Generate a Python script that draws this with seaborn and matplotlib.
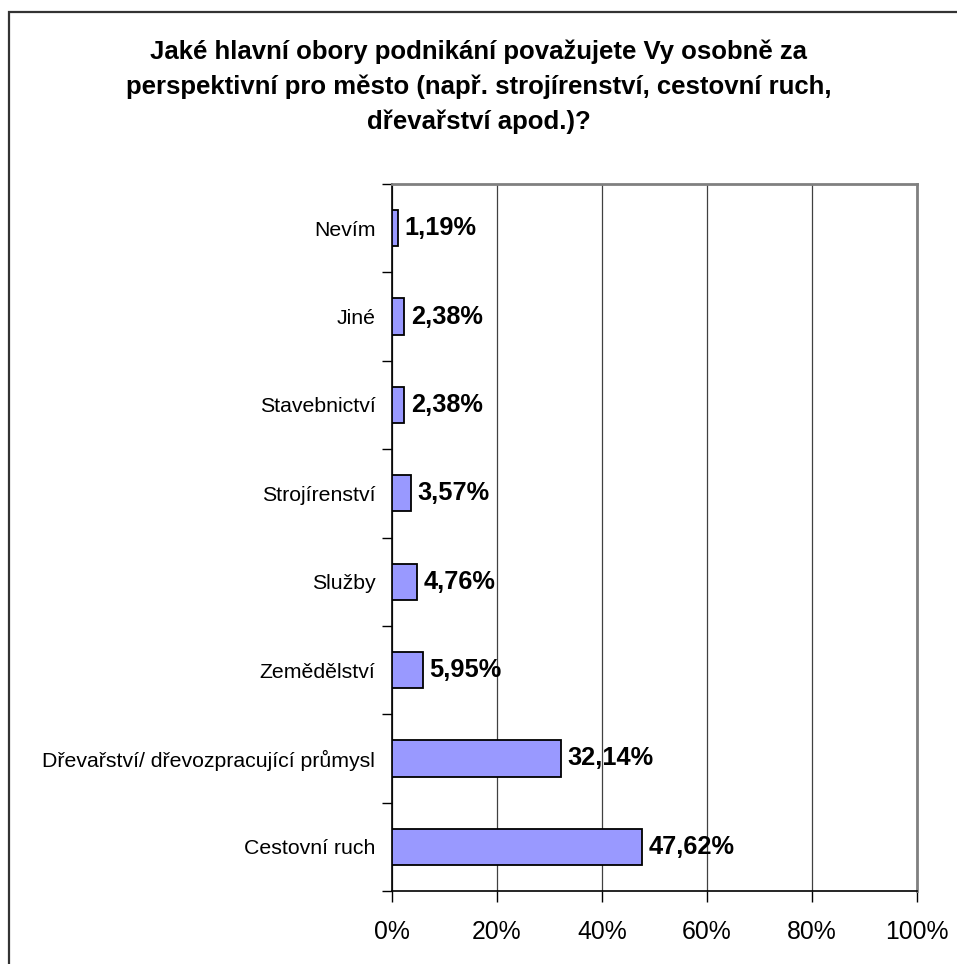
import matplotlib
matplotlib.use("Agg")
import matplotlib.pyplot as plt
from matplotlib.patches import Rectangle
from matplotlib.ticker import FixedLocator, PercentFormatter
import seaborn as sns
import pandas as pd

categories = [
    "Nevím",
    "Jiné",
    "Stavebnictví",
    "Strojírenství",
    "Služby",
    "Zemědělství",
    "Dřevařství/ dřevozpracující průmysl",
    "Cestovní ruch",
]
values = [1.19, 2.38, 2.38, 3.57, 4.76, 5.95, 32.14, 47.62]
x_ticks = [0, 20, 40, 60, 80, 100]
title = ("Jaké hlavní obory podnikání považujete Vy osobně za\n"
         "perspektivní pro město (např. strojírenství, cestovní ruch,\n"
         "dřevařství apod.)?")

sns.set_theme(style="white")
plt.rcParams["font.family"] = ["Liberation Sans", "DejaVu Sans"]
plt.rcParams["text.color"] = "black"

df = pd.DataFrame({"obor": categories, "podil": values})

fig = plt.figure(figsize=(9.57, 9.64), dpi=100)
ax = fig.add_axes([392 / 957, 1 - 891 / 964, 525 / 957, 707 / 964])

sns.barplot(data=df, x="podil", y="obor", order=categories, orient="h",
            color="#9999FF", edgecolor="black", linewidth=1.3,
            width=0.41, saturation=1, ax=ax, zorder=3)

ax.set_xlim(0, 100)
ax.set_ylim(len(categories) - 0.5, -0.5)
ax.set_xlabel("")
ax.set_ylabel("")

# vertical gridlines
ax.xaxis.set_major_locator(FixedLocator(x_ticks))
ax.xaxis.set_major_formatter(PercentFormatter(decimals=0))
ax.grid(axis="x", color="#404040", linewidth=0.9, zorder=0)
ax.grid(axis="y", visible=False)

# tick marks between categories, labels at centres
ax.set_yticks(range(len(categories)))
ax.set_yticklabels(categories)
ax.yaxis.set_minor_locator(FixedLocator([i - 0.5 for i in range(len(categories) + 1)]))
ax.tick_params(axis="y", which="major", length=0, pad=12, labelsize=15.3, colors="black")
ax.tick_params(axis="y", which="minor", left=True, length=7, width=1, color="black", direction="out")
ax.tick_params(axis="x", which="major", bottom=True, length=8, width=1, color="black",
               direction="out", pad=13, labelsize=17.8, labelcolor="black")

for side in ("left", "bottom"):
    ax.spines[side].set_color("black")
    ax.spines[side].set_linewidth(1.2)
for side in ("top", "right"):
    ax.spines[side].set_visible(True)
    ax.spines[side].set_color("#808080")
    ax.spines[side].set_linewidth(2)

for i, v in enumerate(values):
    ax.text(v + 1.2, i, f"{v:.2f}".replace(".", ",") + "%", va="center", ha="left",
            fontsize=18.3, fontweight="bold", color="black", zorder=4)

fig.text(0.5, 1 - 40 / 964, title, ha="center", va="top", fontsize=18.5,
         fontweight="bold", linespacing=1.52, color="black")

# chart-area frame
fig.patches.append(Rectangle((9 / 957, -0.05), 1.2, 1 - 12 / 964 + 0.05,
                             transform=fig.transFigure, fill=False,
                             edgecolor="#333333", linewidth=1.6))

fig.savefig("out.png", dpi=100, facecolor="white")
